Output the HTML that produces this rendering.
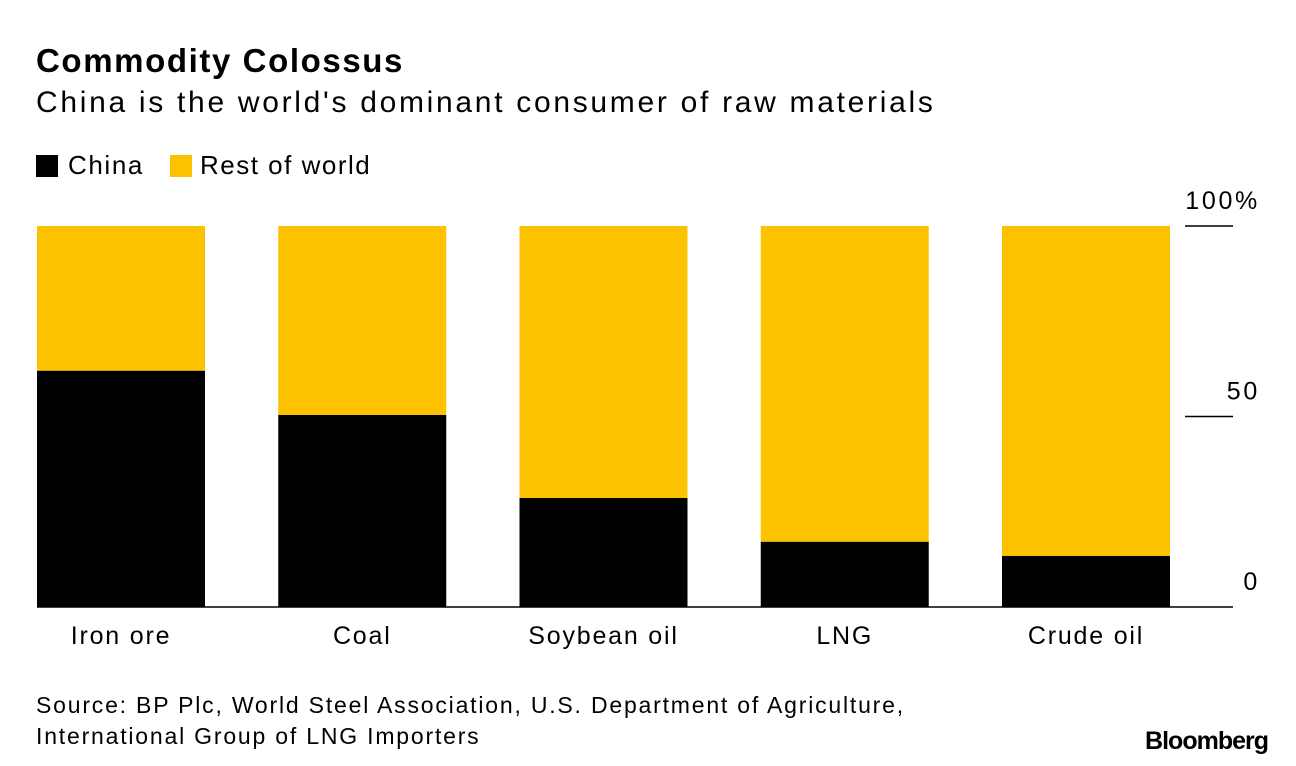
<!DOCTYPE html>
<html><head><meta charset="utf-8"><style>
body{margin:0;width:1296px;height:766px;background:#fff;font-family:"Liberation Sans",sans-serif;overflow:hidden;position:relative}
.t{position:absolute;white-space:nowrap;color:#000}
</style></head><body>
<div class="t" style="left:36px;top:42px;font-size:33px;font-weight:bold;letter-spacing:1.6px">Commodity Colossus</div>
<div class="t" style="left:36px;top:86px;font-size:30px;letter-spacing:2.7px">China is the world's dominant consumer of raw materials</div>
<div class="t" style="left:36px;top:150px;font-size:26px;letter-spacing:1.6px"><span style="display:inline-block;width:22px;height:22px;background:#000;margin-right:10px;vertical-align:-3px"></span>China</div>
<div class="t" style="left:170px;top:150px;font-size:26px;letter-spacing:1.5px"><span style="display:inline-block;width:22px;height:22px;background:#fcc200;margin-right:8px;vertical-align:-3px"></span>Rest of world</div>
<svg id="chart" width="1296" height="766" style="position:absolute;left:0;top:0"></svg>
<div class="t" style="left:36px;top:690px;font-size:23px;line-height:31px;letter-spacing:1.8px">Source: BP Plc, World Steel Association, U.S. Department of Agriculture,<br>International Group of LNG Importers</div>
<div class="t" style="right:28px;top:727px;font-size:25px;font-weight:bold;letter-spacing:-1px">Bloomberg</div>
<script>
const categories=["Iron ore","Coal","Soybean oil","LNG","Crude oil"];
const chinaShare=[62,50.4,28.6,17.1,13.4];
const tickValues=[0,50,100];
const tickLabels=["0","50","100%"];
const svg=document.getElementById('chart');
const NS="http://www.w3.org/2000/svg";
const y0=607,y100=226;
const y=v=>y0-(y0-y100)*v/100;
const barX=i=>37+i*241.25, barW=168;
function mk(tag,attrs){const e=document.createElementNS(NS,tag);for(const k in attrs)e.setAttribute(k,attrs[k]);svg.appendChild(e);return e;}
categories.forEach((c,i)=>{
  const r1=mk('rect',{x:barX(i),y:y(100),width:barW,height:y(chinaShare[i])-y(100),fill:'#fcc200'});
  
  
  const r2=mk('rect',{x:barX(i),y:y(chinaShare[i]),width:barW,height:y0-y(chinaShare[i]),fill:'#000'});
  
  
  const t=mk('text',{x:barX(i)+barW/2,y:644,'font-size':25,'text-anchor':'middle','font-family':'Liberation Sans','letter-spacing':1.8});
  t.textContent=c;
  
  
});
tickValues.forEach((v,i)=>{
  if(v>0){const l=mk('line',{x1:1185,x2:1233,y1:y(v),y2:y(v),stroke:'#000','stroke-width':1.5});
  
  }
  const t=mk('text',{x:1260,y:y(v)-17,'font-size':25,'text-anchor':'end','font-family':'Liberation Sans','letter-spacing':2.7});
  t.textContent=tickLabels[i];
  
  
});
const b=mk('line',{x1:37,x2:1233,y1:y0,y2:y0,stroke:'#000','stroke-width':1.5});


</script>
</body></html>
